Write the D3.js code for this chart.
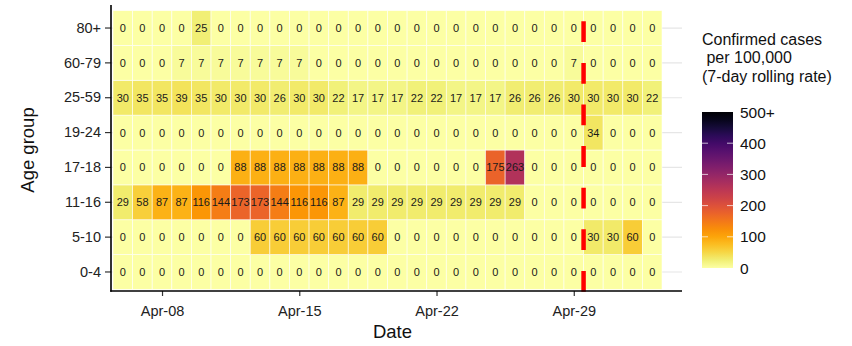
<!DOCTYPE html>
<html><head><meta charset="utf-8">
<script src="https://cdn.jsdelivr.net/npm/d3@7"></script>
<style>body{margin:0;background:#fff;}svg{display:block;font-family:"Liberation Sans",Arial,sans-serif;}</style>
</head><body><svg id="c" width="852" height="346"></svg>
<script>
const ageGroups = ["0-4","5-10","11-16","17-18","19-24","25-59","60-79","80+"];
const startDate = "2021-04-06";
const nDays = 28;
const xTickDates = ["2021-04-08","2021-04-15","2021-04-22","2021-04-29"];
const markerDate = "2021-04-29";
const legendTicks = [0,100,200,300,400,500];
const legendLabels = ["0","100","200","300","400","500+"];
const legendTitle = ["Confirmed cases"," per 100,000","(7-day rolling rate)"];

const v_0_4   = [0,0,0,0,0,0,0,0,0,0,0,0,0,0,0,0,0,0,0,0,0,0,0,0,0,0,0,0];
const v_5_10  = [0,0,0,0,0,0,0,60,60,60,60,60,60,60,0,0,0,0,0,0,0,0,0,0,30,30,60,0];
const v_11_16 = [29,58,87,87,116,144,173,173,144,116,116,87,29,29,29,29,29,29,29,29,29,0,0,0,0,0,0,0];
const v_17_18 = [0,0,0,0,0,0,88,88,88,88,88,88,88,0,0,0,0,0,0,175,263,0,0,0,0,0,0,0];
const v_19_24 = [0,0,0,0,0,0,0,0,0,0,0,0,0,0,0,0,0,0,0,0,0,0,0,0,34,0,0,0];
const v_25_59 = [30,35,35,39,35,30,30,30,26,30,30,22,17,17,17,22,22,17,17,17,26,26,26,30,30,30,30,22];
const v_60_79 = [0,0,0,7,7,7,7,7,7,7,0,0,0,0,0,0,0,0,0,0,0,0,0,7,0,0,0,0];
const v_80    = [0,0,0,0,25,0,0,0,0,0,0,0,0,0,0,0,0,0,0,0,0,0,0,0,0,0,0,0];
const seriesValues = [v_0_4,v_5_10,v_11_16,v_17_18,v_19_24,v_25_59,v_60_79,v_80];

const parse = d3.utcParse("%Y-%m-%d");
const DAY = 86400000;
const d0 = parse(startDate);
const dates = d3.range(nDays).map(i => new Date(d0.getTime() + i*DAY));
const cells = [];
ageGroups.forEach((g,gi) => dates.forEach((d,di) => cells.push({g, d, v: seriesValues[gi][di]})));

const svg = d3.select("#c");
const L = 111, R = 682, T = 5, B = 291;
const tileL = 113, tileR = 662;
const x = d3.scaleUtc()
  .domain([new Date(d0.getTime() - DAY/2), new Date(dates[nDays-1].getTime() + DAY/2)])
  .range([tileL, tileR]);
const cw = x(new Date(d0.getTime()+DAY)) - x(d0);
const y = d3.scaleBand().domain(ageGroups).range([289.4, 10.6]).padding(0);
const color = v => d3.interpolateInferno(1 - Math.min(v,500)/500);

// gridlines
svg.append("g").selectAll("line").data(ageGroups).join("line")
  .attr("x1", L).attr("x2", R)
  .attr("y1", d => y(d)+y.bandwidth()/2).attr("y2", d => y(d)+y.bandwidth()/2)
  .attr("stroke", "#e6e6e6").attr("stroke-width", 1.2);

// tiles
svg.append("g").selectAll("rect").data(cells).join("rect")
  .attr("x", d => x(d.d) - cw/2).attr("y", d => y(d.g))
  .attr("width", cw).attr("height", y.bandwidth())
  .attr("fill", d => color(d.v)).attr("stroke", "#fff").attr("stroke-width", 0.8).attr("stroke-opacity", 0.7);

svg.append("g").selectAll("text").data(cells).join("text")
  .attr("x", d => x(d.d)).attr("y", d => y(d.g)+y.bandwidth()/2)
  .attr("dy", "0.36em").attr("text-anchor", "middle")
  .attr("font-size", 11).attr("fill", "#1a1a1a").text(d => d.v);

// marker line
const mx = x(new Date(parse(markerDate).getTime() + DAY/2));
svg.append("line").attr("x1", mx).attr("x2", mx).attr("y1", B+0.7).attr("y2", T)
  .attr("stroke", "#ff0000").attr("stroke-width", 4.5).attr("stroke-dasharray", "20.8 20.8");

// axes
const xAxis = d3.axisBottom(x).tickValues(xTickDates.map(parse))
  .tickFormat(d3.utcFormat("%b-%d")).tickSize(5).tickSizeOuter(0);
const gx = svg.append("g").attr("transform", `translate(0,${B})`).call(xAxis);
gx.select(".domain").remove();
gx.selectAll(".tick line").attr("stroke", "#333").attr("stroke-width", 1.2);
gx.selectAll(".tick text").attr("font-size", 14.5).attr("fill", "#222").attr("dy", "1.15em")
  .attr("font-family", "Liberation Sans, Arial, sans-serif");

const yAxis = d3.axisLeft(y).tickSize(5).tickSizeOuter(0);
const gy = svg.append("g").attr("transform", `translate(${L},0)`).call(yAxis);
gy.select(".domain").remove();
gy.selectAll(".tick line").attr("stroke", "#333").attr("stroke-width", 1.2).attr("x2", -6);
gy.selectAll(".tick text").attr("font-size", 14.5).attr("fill", "#222").attr("x", -10)
  .attr("font-family", "Liberation Sans, Arial, sans-serif");

svg.append("line").attr("x1", L).attr("x2", L).attr("y1", T).attr("y2", B+0.8).attr("stroke", "#000").attr("stroke-width", 1.6);
svg.append("line").attr("x1", L-0.8).attr("x2", R).attr("y1", B).attr("y2", B).attr("stroke", "#000").attr("stroke-width", 1.6);

svg.append("text").attr("x", (L+R)/2 - 4).attr("y", 338).attr("text-anchor", "middle")
  .attr("font-size", 18.5).attr("fill", "#111").text("Date");
svg.append("text").attr("transform", `translate(34,${(T+B)/2 + 2}) rotate(-90)`).attr("text-anchor", "middle")
  .attr("font-size", 18.5).attr("fill", "#111").text("Age group");

// legend
const lg = svg.append("g");
legendTitle.forEach((t,i) => lg.append("text").attr("x", 702).attr("y", 45 + i*18.3)
  .attr("font-size", 16).attr("fill", "#111").attr("xml:space","preserve").style("white-space","pre").text(t));
const ly = d3.scaleLinear().domain([0,500]).range([268, 112]);
const defs = svg.append("defs");
const grad = defs.append("linearGradient").attr("id", "lgrad").attr("x1",0).attr("y1",1).attr("x2",0).attr("y2",0);
d3.range(0,1.0001,0.05).forEach(t => grad.append("stop").attr("offset", t).attr("stop-color", color(t*500)));
lg.append("rect").attr("x", 702).attr("y", ly(500)).attr("width", 31).attr("height", ly(0)-ly(500)).attr("fill", "url(#lgrad)");
legendTicks.slice(1,5).forEach(v => {
  lg.append("line").attr("x1",702).attr("x2",708).attr("y1",ly(v)).attr("y2",ly(v)).attr("stroke","#fff").attr("stroke-opacity",0.7);
  lg.append("line").attr("x1",727).attr("x2",733).attr("y1",ly(v)).attr("y2",ly(v)).attr("stroke","#fff").attr("stroke-opacity",0.7);
});
lg.selectAll("text.lab").data(legendTicks).join("text").attr("class","lab")
  .attr("x", 740).attr("y", d => ly(d)).attr("dy","0.36em").attr("font-size", 15.5).attr("fill","#111")
  .text((d,i) => legendLabels[i]);
</script></body></html>
